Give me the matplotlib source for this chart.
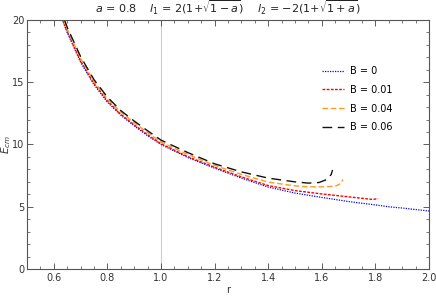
import numpy as np
import matplotlib
matplotlib.use("Agg")
import matplotlib.pyplot as plt
from matplotlib.ticker import MultipleLocator

# datos: E_cm frente a r para distintos B
r_b0 = [0.632, 0.65, 0.7, 0.75, 0.8, 0.85, 0.9, 0.95, 1.0, 1.1, 1.2, 1.3, 1.4,
        1.5, 1.6, 1.7, 1.8, 1.85, 1.9, 2.0]
e_b0 = [20.0, 19.0, 16.6, 14.8, 13.4, 12.35, 11.5, 10.7, 10.0, 8.95, 8.1, 7.3,
        6.58, 6.1, 5.75, 5.42, 5.15, 5.0, 4.9, 4.66]

r_b1 = [0.633, 0.65, 0.7, 0.75, 0.8, 0.85, 0.9, 0.95, 1.0, 1.1, 1.2, 1.3, 1.4,
        1.5, 1.6, 1.7, 1.75, 1.79, 1.81]
e_b1 = [20.0, 19.05, 16.7, 14.9, 13.5, 12.42, 11.57, 10.78, 10.06, 9.02, 8.17,
        7.4, 6.7, 6.3, 6.03, 5.8, 5.68, 5.59, 5.65]

r_b4 = [0.637, 0.65, 0.7, 0.75, 0.8, 0.85, 0.9, 0.95, 1.0, 1.1, 1.2, 1.3, 1.4,
        1.5, 1.55, 1.6, 1.65, 1.665, 1.675, 1.678]
e_b4 = [20.0, 19.25, 16.9, 15.05, 13.65, 12.6, 11.75, 10.95, 10.2, 9.2, 8.32,
        7.6, 6.98, 6.68, 6.6, 6.6, 6.65, 6.8, 7.0, 7.2]

r_b6 = [0.64, 0.65, 0.7, 0.75, 0.8, 0.85, 0.9, 0.95, 1.0, 1.1, 1.2, 1.3, 1.4,
        1.5, 1.55, 1.59, 1.62, 1.635, 1.64]
e_b6 = [20.0, 19.4, 17.05, 15.2, 13.8, 12.72, 11.88, 11.1, 10.35, 9.35, 8.45,
        7.8, 7.3, 7.0, 6.9, 6.95, 7.2, 7.6, 7.95]

etiquetas = ["B = 0", "B = 0.01", "B = 0.04", "B = 0.06"]

fig = plt.figure(figsize=(4.36, 2.97), dpi=100)
ax = fig.add_axes([0.062, 0.094, 0.922, 0.839])

ax.plot(r_b0, e_b0, color="#0000ff", lw=0.9, linestyle=(0, (1, 1)), label=etiquetas[0])
ax.plot(r_b1, e_b1, color="#ff0000", lw=1.0, linestyle=(0, (2, 1)), label=etiquetas[1])
ax.plot(r_b4, e_b4, color="#ff9a1a", lw=1.0, linestyle=(0, (4, 2)), label=etiquetas[2])
ax.plot(r_b6, e_b6, color="#111111", lw=1.0, linestyle=(0, (7, 4)), label=etiquetas[3])

ax.axvline(1.0, color="#cccccc", lw=0.8, zorder=0)

ax.set_xlim(0.5, 2.0)
ax.set_ylim(0, 20)
ax.xaxis.set_major_locator(MultipleLocator(0.2))
ax.xaxis.set_minor_locator(MultipleLocator(0.05))
ax.yaxis.set_major_locator(MultipleLocator(5))
ax.yaxis.set_minor_locator(MultipleLocator(1))
ax.tick_params(which="both", direction="in", top=True, right=True,
               labelsize=7, colors="#444444", labelcolor="#333333")
ax.tick_params(which="major", length=4, width=0.6, pad=3)
ax.tick_params(which="minor", length=2, width=0.5)
ax.tick_params(axis="y", which="major", pad=2)
for s in ax.spines.values():
    s.set_color("#555555")
    s.set_linewidth(0.8)

ax.set_xlabel("r", fontsize=7, color="#333333")
ax.xaxis.set_label_coords(0.5, -0.062)
ax.set_ylabel("$E_{cm}$", fontsize=7.5, color="#333333")
ax.yaxis.set_label_coords(-0.035, 0.5)
ax.set_title(r"$a$ = 0.8    $l_1$ = 2(1+$\sqrt{1-a}$)    $l_2$ = $-$2(1+$\sqrt{1+a}$)",
             fontsize=8, color="#222222", pad=5)

ax.legend(loc="upper right", bbox_to_anchor=(0.93, 0.85), frameon=False,
          fontsize=7, handlelength=2.2, labelspacing=0.9, handletextpad=0.6)

plt.savefig("out.png", dpi=100)
